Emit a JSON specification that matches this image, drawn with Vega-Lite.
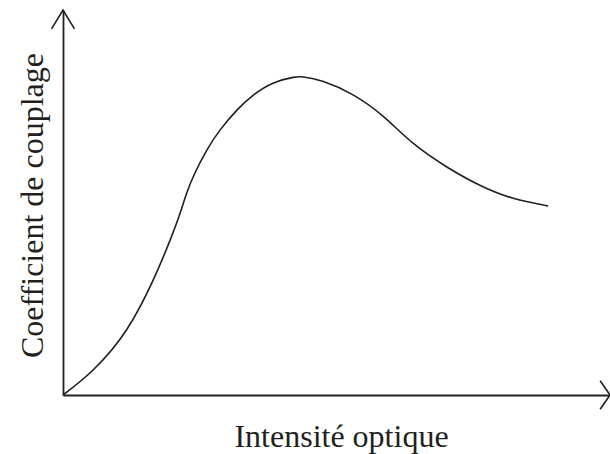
{
  "$schema": "https://vega.github.io/schema/vega-lite/v6.json",
  "width": 547,
  "height": 385,
  "autosize": {"type": "none"},
  "padding": {"left": 63, "top": 10, "right": 0, "bottom": 59},
  "background": "white",
  "config": {"view": {"stroke": null}},
  "datasets": {
    "curve": [
      {"x": 0, "y": 0},
      {"x": 5.5, "y": 6.5},
      {"x": 11.6, "y": 16.9},
      {"x": 16.5, "y": 29.9},
      {"x": 19.6, "y": 40.3},
      {"x": 21.4, "y": 47.2},
      {"x": 22.6, "y": 52.4},
      {"x": 24.1, "y": 57.6},
      {"x": 26.3, "y": 63.6},
      {"x": 28.7, "y": 68.8},
      {"x": 31.8, "y": 74.0},
      {"x": 34.8, "y": 77.9},
      {"x": 38.4, "y": 81.0},
      {"x": 42.1, "y": 82.5},
      {"x": 44.0, "y": 82.6},
      {"x": 47.6, "y": 81.4},
      {"x": 53.1, "y": 77.9},
      {"x": 58.6, "y": 72.3},
      {"x": 64.0, "y": 65.4},
      {"x": 70.1, "y": 59.3},
      {"x": 76.2, "y": 54.5},
      {"x": 82.3, "y": 51.1},
      {"x": 88.7, "y": 49.1}
    ],
    "arrows": [
      {"g": "y", "o": 1, "x": -2.1, "y": 95.1},
      {"g": "y", "o": 2, "x": 0, "y": 100},
      {"g": "y", "o": 3, "x": 2.1, "y": 95.1},
      {"g": "x", "o": 1, "x": 98.2, "y": 3.7},
      {"g": "x", "o": 2, "x": 100, "y": 0},
      {"g": "x", "o": 3, "x": 98.2, "y": -3.7}
    ]
  },
  "layer": [
    {
      "data": {"name": "curve"},
      "mark": {"type": "line", "interpolate": "natural", "color": "#231f20", "strokeWidth": 1.6},
      "encoding": {
        "x": {
          "field": "x", "type": "quantitative",
          "scale": {"domain": [0, 100], "nice": false, "zero": false},
          "axis": {
            "title": "Intensité optique",
            "titleFont": "Liberation Serif, Times New Roman, serif", "titleFontSize": 32, "titleFontWeight": "normal",
            "titleColor": "#231f20",
            "titleX": 278, "titleY": 51, "titleAlign": "center", "titleBaseline": "alphabetic",
            "ticks": false, "labels": false, "grid": false,
            "domain": true, "domainColor": "#231f20", "domainWidth": 1.8
          }
        },
        "y": {
          "field": "y", "type": "quantitative",
          "scale": {"domain": [0, 100], "nice": false, "zero": false},
          "axis": {
            "title": "Coefficient de couplage",
            "titleFont": "Liberation Serif, Times New Roman, serif", "titleFontSize": 32, "titleFontWeight": "normal",
            "titleColor": "#231f20",
            "titleAngle": -90,
            "titleX": -21, "titleY": 195, "titleAlign": "center", "titleBaseline": "alphabetic",
            "ticks": false, "labels": false, "grid": false,
            "domain": true, "domainColor": "#231f20", "domainWidth": 1.8
          }
        }
      }
    },
    {
      "data": {"name": "arrows"},
      "mark": {"type": "line", "color": "#231f20", "strokeWidth": 1.6},
      "encoding": {
        "x": {"field": "x", "type": "quantitative"},
        "y": {"field": "y", "type": "quantitative"},
        "detail": {"field": "g"},
        "order": {"field": "o"}
      }
    }
  ]
}
